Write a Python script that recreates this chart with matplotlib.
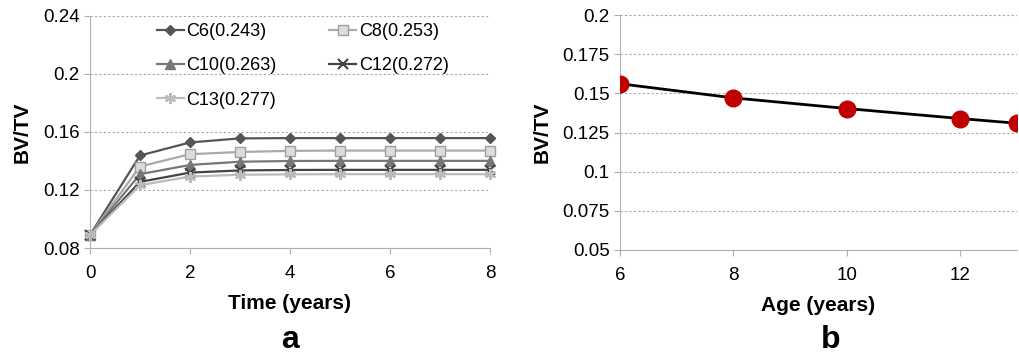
import numpy as np
import matplotlib.pyplot as plt
from matplotlib.ticker import FuncFormatter

plt.rcParams['font.family'] = ['Liberation Sans', 'DejaVu Sans']

# panel a: BV/TV over time for each case
time = [0, 1, 2, 3, 4, 5, 6, 7, 8]
c6 = [0.089, 0.1438, 0.1528, 0.1556, 0.1558, 0.1558, 0.1558, 0.1558, 0.1558]
c8 = [0.089, 0.1362, 0.1447, 0.1462, 0.1470, 0.1472, 0.1472, 0.1472, 0.1472]
c10 = [0.089, 0.1309, 0.1373, 0.1395, 0.1400, 0.1401, 0.1401, 0.1401, 0.1401]
c12 = [0.089, 0.1256, 0.1320, 0.1335, 0.1338, 0.1339, 0.1339, 0.1339, 0.1339]
c13 = [0.089, 0.1233, 0.1293, 0.1305, 0.1308, 0.1309, 0.1309, 0.1309, 0.1309]
labels = ['C6(0.243)', 'C8(0.253)', 'C10(0.263)', 'C12(0.272)', 'C13(0.277)']

# panel b: BV/TV vs age
age = [6, 8, 10, 12, 13]
bvtv = [0.1561, 0.1471, 0.1403, 0.1339, 0.1309]

fmt = FuncFormatter(lambda v, p: '%g' % round(v, 4))
grey = '#b0b0b0'

fig = plt.figure(figsize=(10.19, 3.56), dpi=100)

# ---- panel a
ax1 = fig.add_axes([90/1019, 1-248/356, 400/1019, 232/356])
styles = [
    dict(color='#555555', marker='D', markersize=5, mfc='#555555', mec='#555555'),
    dict(color='#aaaaaa', marker='s', markersize=7, mfc='#dcdcdc', mec='#a0a0a0'),
    dict(color='#777777', marker='^', markersize=7, mfc='#777777', mec='#777777'),
    dict(color='#444444', marker='x', markersize=7, mew=1.5),
    dict(color='#bbbbbb', marker=(6, 2, 0), markersize=8, mew=1.5),
]
handles = []
for ys, lab, st in zip([c6, c8, c10, c12, c13], labels, styles):
    h, = ax1.plot(time, ys, lw=1.6, label=lab, clip_on=False, **st)
    handles.append(h)

ax1.set_xlim(0, 8)
ax1.set_ylim(0.08, 0.24)
ax1.set_xticks([0, 2, 4, 6, 8])
ax1.set_yticks([0.08, 0.12, 0.16, 0.2, 0.24])
ax1.yaxis.set_major_formatter(fmt)
ax1.set_xlabel('Time (years)', fontsize=15, fontweight='bold', labelpad=9)
ax1.set_ylabel('BV/TV', fontsize=15, fontweight='bold', labelpad=8)
# legend is filled row by row in the reference
order = [0, 2, 4, 1, 3]
ax1.legend([handles[i] for i in order], [labels[i] for i in order],
           loc='upper left', bbox_to_anchor=(0.135, 1.023), ncol=2, frameon=False,
           fontsize=13, handlelength=1.5, handletextpad=0.15, columnspacing=2.9,
           labelspacing=0.95, borderpad=0.2)
ax1.text(0.5, -0.43, 'a', transform=ax1.transAxes, ha='center', va='baseline',
         fontsize=23, fontweight='bold')

# ---- panel b
ax2 = fig.add_axes([620/1019, 1-250/356, 397/1019, 235/356])
ax2.plot(age, bvtv, color='black', lw=2, marker='o', markersize=12,
         mfc='#c00000', mec='#c00000', zorder=3)
ax2.set_xlim(6, 13)
ax2.set_ylim(0.05, 0.2)
ax2.set_xticks([6, 8, 10, 12])
ax2.set_yticks(np.arange(0.05, 0.2001, 0.025))
ax2.yaxis.set_major_formatter(fmt)
ax2.set_xlabel('Age (years)', fontsize=15, fontweight='bold', labelpad=9)
ax2.set_ylabel('BV/TV', fontsize=15, fontweight='bold', labelpad=8)
ax2.text(0.53, -0.417, 'b', transform=ax2.transAxes, ha='center', va='baseline',
         fontsize=23, fontweight='bold')

for ax in (ax1, ax2):
    for s in ('top', 'right'):
        ax.spines[s].set_visible(False)
    for s in ('left', 'bottom'):
        ax.spines[s].set_color(grey)
    ax.tick_params(axis='both', labelsize=13.5, color=grey, length=4)
    ax.tick_params(axis='x', pad=8)
    ax.grid(axis='y', color='#a8a8a8', linestyle=(0, (2, 2)), lw=0.8)
    ax.set_axisbelow(True)

fig.savefig('out.png', dpi=100)
